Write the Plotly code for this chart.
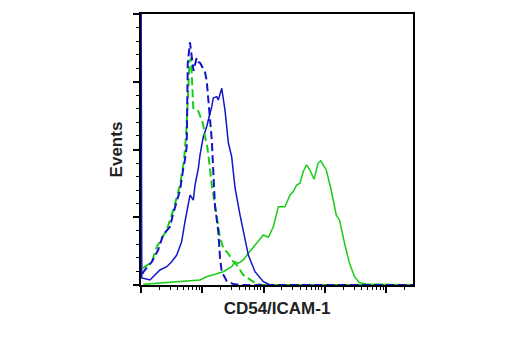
import plotly.graph_objects as go

# Fluorescence intensity (log axis) and event counts
blue_solid_x = [10, 10.3, 14.0, 16.9, 20.4, 26.3, 31.7, 38.3, 46.1, 52.2, 59.1, 63.1, 71.4, 76.2, 86.3,
                91.8, 104, 118, 134, 143, 151, 172, 183, 208, 235, 251, 267, 302, 343, 413, 499,
                565, 726, 993, 1276, 275000]
blue_solid_y = [250, 5.2, 3.7, 7.4, 11.1, 13.5, 17.2, 22.1, 32, 46.7, 61.5, 66.4, 62.7, 73.8, 86.1,
                95.9, 109.4, 116.8, 126.9, 131.6, 138, 139, 136.5, 145.2, 129, 114.4, 104.8, 94.7, 71.6, 51.7, 34.7,
                22.1, 9.8, 2.4, 0, 0]

blue_dash_x = [10.5, 10.9, 15, 19, 23, 29.7, 33.7, 43.4, 49, 52, 55.7, 57, 58, 63, 72, 81, 86, 92,
               111, 118, 122, 126, 134, 143, 147, 153, 161, 183, 195, 208, 251, 321, 420, 275000]
blue_dash_y = [8, 9.6, 17, 25.8, 37, 43, 53, 70, 86, 92, 102, 127, 164, 179, 158, 167.5, 164.6, 164,
               157, 151, 142, 134, 122, 107, 96, 81, 59, 39, 20, 9.6, 3, 0.7, 0, 0]

green_dash_x = [10.8, 15, 18, 26.3, 33.7, 43.4, 50.5, 55, 58.5, 62, 65.5, 68, 71.4, 76, 86, 98,
                104, 111, 118, 126, 143, 161, 195, 220, 262, 321, 366, 467, 603, 726, 935, 275000]
green_dash_y = [12.5, 17, 28, 40.6, 55.4, 73.8, 92.3, 114, 140, 164.6, 167.5, 155, 130.6, 129, 128.4, 121.8,
                118, 109, 104.8, 96, 73.8, 59, 34.7, 27.3, 23.6, 17.2, 14.8, 7.4, 3.7, 1.5, 0, 0]

green_solid_x = [10.9, 18, 33.3, 63.1, 91.8, 118, 220, 302, 343, 386, 467, 565, 726, 876, 993, 1198,
                 1448, 1748, 2241, 2706, 3063, 3477, 3930, 4446, 5030, 5690, 6680, 7760, 8570, 10570,
                 12720, 15360, 17370, 20990, 25340, 30570, 36880, 47300, 275000]
green_solid_y = [0.5, 1.3, 2.4, 3, 3.7, 6.1, 9.8, 13.5, 17.2, 16, 18.5, 23.4, 29.5, 33.2, 36.9, 35.2,
                 43, 57.8, 57.8, 66.4, 68.9, 73.8, 75.1, 83.6, 88.6, 84.9, 78, 89.8, 91.7, 84.9,
                 70.1, 51.7, 48, 30.8, 16, 6.1, 1.7, 0.7, 0]

decades = [10, 100, 1000, 10000, 100000]

BLUE = "#1414c8"
GREEN = "#18cc18"

fig = go.Figure()
fig.add_trace(go.Scatter(x=green_solid_x, y=green_solid_y, mode="lines",
                         line=dict(color=GREEN, width=1.5)))
fig.add_trace(go.Scatter(x=blue_solid_x, y=blue_solid_y, mode="lines",
                         line=dict(color=BLUE, width=1.5)))
fig.add_trace(go.Scatter(x=green_dash_x, y=green_dash_y, mode="lines",
                         line=dict(color=GREEN, width=2, dash="8px,4px")))
fig.add_trace(go.Scatter(x=blue_dash_x, y=blue_dash_y, mode="lines",
                         line=dict(color=BLUE, width=2, dash="8px,4px")))

minor_vals = [d * k for d in decades for k in range(2, 10)]

title_font = dict(family="Liberation Sans, Arial, sans-serif", size=17, color="#222222")

fig.update_layout(
    width=520, height=350,
    margin=dict(l=141, r=107, t=14, b=65),
    paper_bgcolor="white", plot_bgcolor="white",
    showlegend=False,
    xaxis=dict(
        type="log", range=[1, 5.44],
        showgrid=False, zeroline=False,
        showline=True, linecolor="black", linewidth=2, mirror=True,
        tickmode="array", tickvals=decades, showticklabels=False,
        ticks="outside", ticklen=6, tickwidth=2, tickcolor="black",
        minor=dict(tickmode="array", tickvals=minor_vals, ticks="outside",
                   ticklen=3, tickwidth=1, tickcolor="black", showgrid=False),
        title=dict(text="<b>CD54/ICAM-1</b>", font=title_font, standoff=10),
    ),
    yaxis=dict(
        range=[0, 200],
        showgrid=False, zeroline=False,
        showline=True, linecolor="black", linewidth=2, mirror=True,
        tickmode="linear", tick0=0, dtick=50, showticklabels=False,
        ticks="outside", ticklen=6, tickwidth=2, tickcolor="black",
        minor=dict(tickmode="linear", tick0=0, dtick=10, ticks="outside",
                   ticklen=3, tickwidth=1, tickcolor="black", showgrid=False),
        title=dict(text="<b>Events</b>", font=title_font, standoff=6),
    ),
)

fig.write_html("out.html")
